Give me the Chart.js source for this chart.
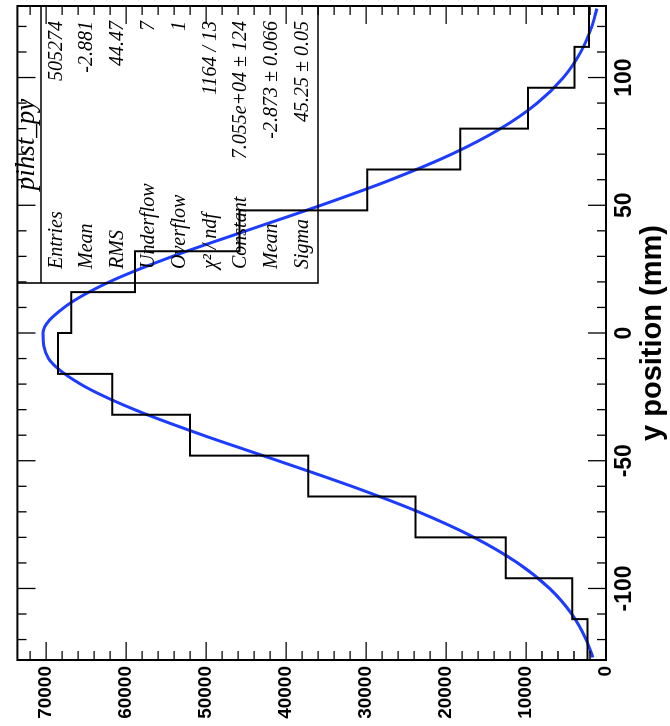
<!DOCTYPE html>
<html>
<head>
<meta charset="utf-8">
<script src="https://cdn.jsdelivr.net/npm/chart.js@4/dist/chart.umd.min.js"></script>
<style>
  html, body { margin: 0; padding: 0; background: #fff; overflow: hidden; }
  /* the ROOT canvas is drawn upright, then turned a quarter CCW */
  #wrap { position: absolute; left: 0; top: 0; width: 726px; height: 670px;
          transform-origin: 0 0; transform: translate(0, 726px) rotate(-90deg); }
</style>
</head>
<body>
<div id="wrap"><canvas id="pihst" width="726" height="670"></canvas></div>
<script>
const binEdges = [-128, -112, -96, -80, -64, -48, -32, -16, 0, 16, 32, 48, 64, 80, 96, 112, 128];
const binCounts = [2300, 4220, 12550, 23820, 37230, 52030, 61750, 68510,
                   66880, 58880, 45840, 29850, 18240, 9750, 3940, 2130];

// gaus fit
const fitX = [-127, -120, -110, -100, -90, -80, -70, -60, -50, -40, -30, -20, -10, 0,
              10, 20, 30, 40, 50, 60, 70, 80, 90, 100, 110, 120, 127];
const fitY = [1650, 2480, 4280, 7050, 11050, 16500, 23470, 31800, 41000, 50400, 58950, 65700, 69700, 70400,
              67750, 62100, 54200, 45000, 35650, 26900, 19300, 13200, 8600, 5330, 3150, 1770, 1150];

const xTicks = [-100, -50, 0, 50, 100];
const yTicks = [0, 10000, 20000, 30000, 40000, 50000, 60000, 70000];
const xTitle = 'y position (mm)';

const statTitle = 'pihst_py';
const statLabels = ['Entries', 'Mean', 'RMS', 'Underflow', 'Overflow', 'χ² / ndf', 'Constant', 'Mean', 'Sigma'];
const statValues = ['505274', '-2.881', '44.47', '7', '1', '1164 / 13', '7.055e+04 ± 124', '-2.873 ± 0.066', '45.25 ± 0.05'];

// last edge repeats the last bin so the final step reaches 128
const histPts = binEdges.map((e, i) => ({ x: e, y: binCounts[Math.min(i, binCounts.length - 1)] }));
const fitPts = fitX.map((v, i) => ({ x: v, y: fitY[i] }));

const axisFont = 'Liberation Sans';
const statFont = 'Liberation Serif';

// frame, inward ticks on all four sides, stats box
const rootFrame = {
  id: 'rootFrame',
  afterDatasetsDraw(chart) {
    const { ctx, chartArea: a, scales: { x, y } } = chart;
    ctx.save();
    ctx.strokeStyle = '#000';
    ctx.lineWidth = 1.3;
    ctx.beginPath();
    for (let v = -120; v <= 120; v += 10) {
      const px = x.getPixelForValue(v);
      const len = v % 50 === 0 ? 18 : 9;
      ctx.moveTo(px, a.bottom); ctx.lineTo(px, a.bottom - len);
      ctx.moveTo(px, a.top); ctx.lineTo(px, a.top + len);
    }
    for (let v = 0; v <= 72000; v += 2000) {
      const py = y.getPixelForValue(v);
      const len = v % 10000 === 0 ? 18 : 9;
      ctx.moveTo(a.left, py); ctx.lineTo(a.left + len, py);
      ctx.moveTo(a.right, py); ctx.lineTo(a.right - len, py);
    }
    ctx.stroke();

    ctx.lineWidth = 2;
    ctx.strokeRect(a.left, a.top, a.right - a.left, a.bottom - a.top);

    // stats box
    const bl = 443, bb = 318, tb = 41;
    ctx.lineWidth = 1.6;
    ctx.beginPath();
    ctx.moveTo(bl, a.top); ctx.lineTo(bl, bb); ctx.lineTo(a.right, bb);
    ctx.moveTo(bl, tb); ctx.lineTo(a.right, tb);
    ctx.stroke();

    ctx.fillStyle = '#000';
    ctx.font = 'italic 27px "' + statFont + '"';
    ctx.textAlign = 'center';
    ctx.textBaseline = 'alphabetic';
    ctx.fillText(statTitle, (bl + a.right) / 2, 34);

    ctx.font = 'italic 20px "' + statFont + '"';
    ctx.textBaseline = 'middle';
    const rowH = (bb - tb) / statLabels.length;
    statLabels.forEach((lab, i) => {
      const cy = tb + rowH * (i + 0.5);
      ctx.textAlign = 'left';
      ctx.fillText(lab, bl + 14, cy);
      ctx.textAlign = 'right';
      ctx.fillText(statValues[i], a.right - 15, cy);
    });
    ctx.restore();
  }
};

new Chart(document.getElementById('pihst'), {
  type: 'line',
  data: {
    datasets: [
      {
        label: 'pihst_py',
        data: histPts,
        stepped: 'before',
        borderColor: '#000',
        borderWidth: 2,
        pointRadius: 0,
        fill: false,
      },
      {
        label: 'gaus',
        data: fitPts,
        borderColor: '#1c3cff',
        borderWidth: 3,
        pointRadius: 0,
        cubicInterpolationMode: 'monotone',
        fill: false,
      },
    ],
  },
  options: {
    responsive: false,
    animation: false,
    devicePixelRatio: 1,
    layout: { padding: { left: 0, right: 6, top: 7, bottom: 0 } },
    plugins: { legend: { display: false }, tooltip: { enabled: false } },
    scales: {
      x: {
        type: 'linear',
        min: -128,
        max: 128,
        grid: { display: false, drawTicks: false },
        border: { display: false },
        afterBuildTicks: s => { s.ticks = xTicks.map(v => ({ value: v })); },
        afterFit: s => { s.height = 64; },
        ticks: {
          padding: 5,
          color: '#000',
          maxRotation: 0,
          callback: v => String(v),
          font: { family: axisFont, size: 23, weight: 'bold' },
        },
        title: {
          display: true,
          text: xTitle,
          color: '#000',
          padding: { top: 0, bottom: 0 },
          font: { family: axisFont, size: 29, weight: 'bold' },
        },
      },
      y: {
        type: 'linear',
        min: 0,
        max: 73600,
        grid: { display: false, drawTicks: false },
        border: { display: false },
        afterBuildTicks: s => { s.ticks = yTicks.map(v => ({ value: v })); },
        afterFit: s => { s.width = 66; },
        ticks: {
          padding: 6,
          color: '#000',
          callback: v => String(v),
          font: { family: axisFont, size: 19, weight: 'bold' },
        },
      },
    },
  },
  plugins: [rootFrame],
});
</script>
</body>
</html>
